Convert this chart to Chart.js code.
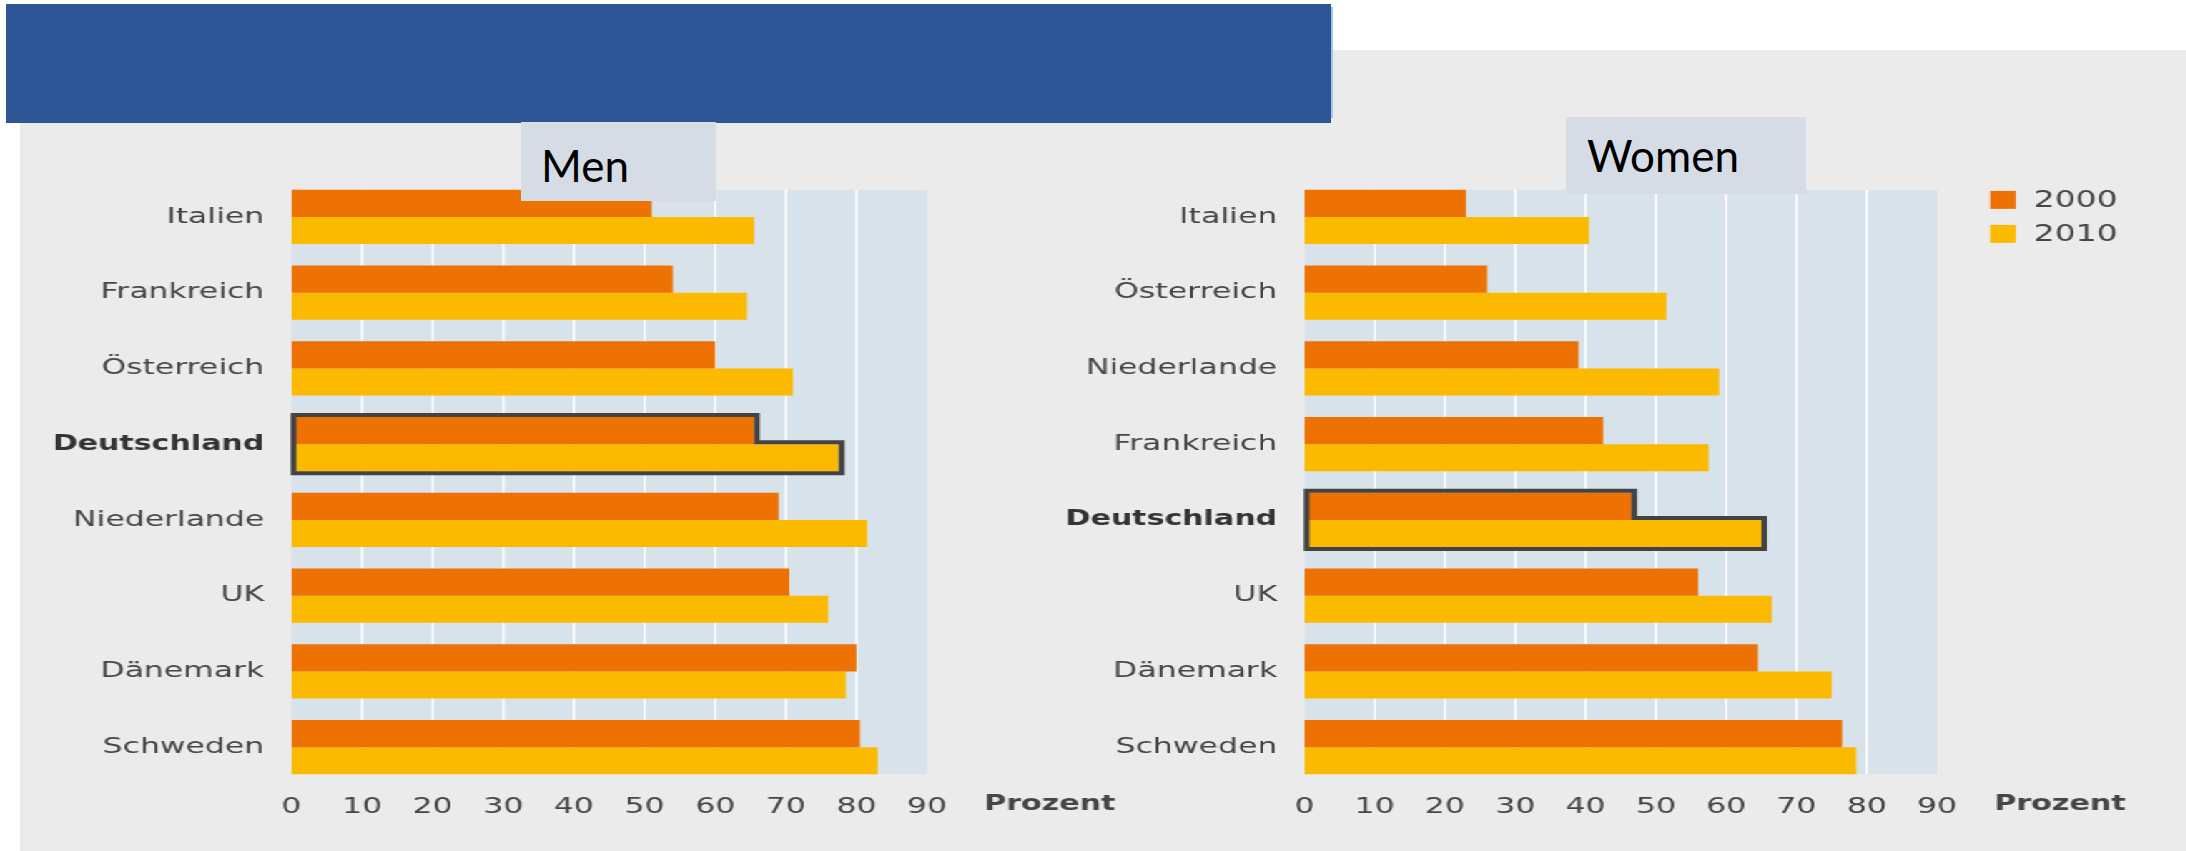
<!DOCTYPE html>
<html>
<head>
<meta charset="utf-8">
<script src="https://cdn.jsdelivr.net/npm/chart.js@4.4.1/dist/chart.umd.min.js"></script>
<style>
  body {
    margin: 0;
    width: 2186px;
    height: 851px;
    background: #ffffff;
    overflow: hidden;
    position: relative;
  }
  #panel {
    position: absolute;
    left: 20px;
    top: 50px;
    right: 0;
    bottom: 0;
    background: #ebebeb;
  }
  #banner {
    position: absolute;
    left: 6px;
    top: 4px;
    width: 1325px;
    height: 119px;
    background: #2e5596;
  }
  #banner-edge {
    position: absolute;
    left: 1331px;
    top: 7px;
    width: 2px;
    height: 111px;
    background: #9ccbe0;
  }
  /* the whole chart is drawn narrow and stretched sideways */
  #stage {
    position: absolute;
    left: 0;
    top: 0;
    width: 1528.67px;
    height: 851px;
    transform: scaleX(1.43);
    transform-origin: 0 0;
  }
  .wrap {
    position: absolute;
    top: 0;
    height: 851px;
  }
  .tag {
    position: absolute;
    background: #d5dce6;
    font-family: Lato, "Open Sans", sans-serif;
    font-size: 44px;
    color: #000000;
    box-sizing: border-box;
  }
</style>
</head>
<body>
<div id="panel"></div>
<div id="stage">
  <div class="wrap" style="left:0;width:800px"><canvas id="menChart"></canvas></div>
  <div class="wrap" style="left:700px;width:828.67px"><canvas id="womenChart"></canvas></div>
</div>
<div id="banner"></div>
<div id="banner-edge"></div>
<div class="tag" style="left:521px;top:122px;width:195px;height:79px;padding:17px 0 0 20px">Men</div>
<div class="tag" style="left:1566px;top:117px;width:240px;height:77px;padding:12px 0 0 21px">Women</div>

<script>
// ---------------------------
// DATA
// ---------------------------

const years = ["2000", "2010"];
const highlight = "Deutschland";

const menCountries = ["Italien", "Frankreich", "Österreich", "Deutschland", "Niederlande", "UK", "Dänemark", "Schweden"];
const men2000 = [51, 54, 60, 65.5, 69, 70.5, 80, 80.5];
const men2010 = [65.5, 64.5, 71, 77.5, 81.5, 76, 78.5, 83];

const womenCountries = ["Italien", "Österreich", "Niederlande", "Frankreich", "Deutschland", "UK", "Dänemark", "Schweden"];
const women2000 = [23, 26, 39, 42.5, 46.5, 56, 64.5, 76.5];
const women2010 = [40.5, 51.5, 59, 57.5, 65, 66.5, 75, 78.5];

const xMin = 0;
const xMax = 90;
const xStep = 10;
const unitLabel = "Prozent";

// ---------------------------
// STYLE
// ---------------------------

const colors = ["#ee7203", "#fbba00"];
const plotBg = "#d8e2ea";
const textColor = "#454545";
const strongText = "#333333";
const fontFamily = "'DejaVu Sans', Verdana, sans-serif";

// ---------------------------
// PLUGIN: plot background, gridlines, outline, unit label, legend
// ---------------------------

const panelPlugin = {
  id: "panelPlugin",
  beforeDatasetsDraw(chart) {
    const { ctx } = chart;
    const xs = chart.scales.x;
    const m0 = chart.getDatasetMeta(0).data;
    const m1 = chart.getDatasetMeta(1).data;
    const top = m0[0].y - m0[0].height / 2;
    const last = m1[m1.length - 1];
    const bottom = last.y + last.height / 2;
    const left = xs.getPixelForValue(xMin);
    const right = xs.getPixelForValue(xMax);

    ctx.save();
    ctx.fillStyle = plotBg;
    ctx.fillRect(left, top, right - left, bottom - top);

    // white lines between the bars, skipping both ends
    ctx.strokeStyle = "#ffffff";
    ctx.lineWidth = 1.5;
    xs.ticks.forEach((t) => {
      if (t.value <= xMin || t.value >= xMax) return;
      const px = xs.getPixelForValue(t.value);
      ctx.beginPath();
      ctx.moveTo(px, top);
      ctx.lineTo(px, bottom);
      ctx.stroke();
    });
    ctx.restore();
  },
  afterDatasetsDraw(chart, args, opts) {
    const { ctx, chartArea } = chart;
    const cats = chart.data.labels;
    const k = cats.indexOf(highlight);

    // stepped outline round the highlighted pair of bars
    if (k >= 0) {
      const a = chart.getDatasetMeta(0).data[k];
      const b = chart.getDatasetMeta(1).data[k];
      const o = 2;
      const L = a.base + 1.5;
      const T0 = a.y - a.height / 2 - o;
      const R0 = a.x + o;
      const T1 = b.y - b.height / 2 - o;
      const R1 = b.x + o;
      const B1 = b.y + b.height / 2 + o;
      ctx.save();
      ctx.strokeStyle = "#434343";
      ctx.lineWidth = 4;
      ctx.lineJoin = "miter";
      ctx.beginPath();
      ctx.moveTo(L, T0);
      ctx.lineTo(R0, T0);
      ctx.lineTo(R0, T1);
      ctx.lineTo(R1, T1);
      ctx.lineTo(R1, B1);
      ctx.lineTo(L, B1);
      ctx.closePath();
      ctx.stroke();
      ctx.restore();
    }

    // unit label on the tick line
    ctx.save();
    ctx.font = "bold 21px " + fontFamily;
    ctx.fillStyle = textColor;
    ctx.textBaseline = "middle";
    ctx.textAlign = "left";
    ctx.fillText(unitLabel, chartArea.right + 40, chart.scales.x.top + 20);
    ctx.restore();

    // legend beside the plot
    if (opts.legend) {
      const first = chart.getDatasetMeta(0).data[0];
      const y0 = first.y - first.height / 2 + 1;
      ctx.save();
      ctx.font = "23px " + fontFamily;
      ctx.textBaseline = "middle";
      ctx.textAlign = "left";
      chart.data.datasets.forEach((ds, i) => {
        const bx = chartArea.right + 37;
        const by = y0 + i * 34;
        ctx.fillStyle = ds.backgroundColor;
        ctx.fillRect(bx, by, 18, 18);
        ctx.fillStyle = textColor;
        ctx.fillText(ds.label, bx + 30.5, by + 10);
      });
      ctx.restore();
    }
  },
};

// ---------------------------
// BUILD ONE PANEL
// ---------------------------

function makeChart(id, cats, d2000, d2010, axisWidth, rightPad, showLegend) {
  const ctx = document.getElementById(id).getContext("2d");
  return new Chart(ctx, {
    type: "bar",
    data: {
      labels: cats,
      datasets: [
        {
          label: years[0],
          data: d2000,
          backgroundColor: colors[0],
          barPercentage: 1,
          categoryPercentage: 0.713,
        },
        {
          label: years[1],
          data: d2010,
          backgroundColor: colors[1],
          barPercentage: 1,
          categoryPercentage: 0.713,
        },
      ],
    },
    options: {
      indexAxis: "y",
      responsive: true,
      maintainAspectRatio: false,
      animation: false,
      events: [],
      layout: {
        padding: { top: 179, bottom: 0, left: 0, right: rightPad },
      },
      plugins: {
        legend: { display: false },
        tooltip: { enabled: false },
        panelPlugin: { legend: showLegend },
      },
      scales: {
        x: {
          type: "linear",
          min: xMin,
          max: xMax,
          grid: { display: false },
          border: { display: false },
          ticks: {
            stepSize: xStep,
            padding: 1.5,
            color: textColor,
            font: { family: fontFamily, size: 22 },
          },
          afterFit: (scale) => {
            scale.height = 66;
          },
        },
        y: {
          grid: { display: false },
          border: { display: false },
          ticks: {
            padding: 11,
            color: (c) => (cats[c.index] === highlight ? strongText : textColor),
            font: (c) =>
              cats[c.index] === highlight
                ? { family: fontFamily, size: 21, weight: "bold" }
                : { family: fontFamily, size: 22 },
          },
          afterFit: (scale) => {
            scale.width = axisWidth;
          },
        },
      },
    },
    plugins: [panelPlugin],
  });
}

makeChart("menChart", menCountries, men2000, men2010, 203.8, 151.7, false);
makeChart("womenChart", womenCountries, women2000, women2010, 211.9, 174.9, true);
</script>
</body>
</html>
